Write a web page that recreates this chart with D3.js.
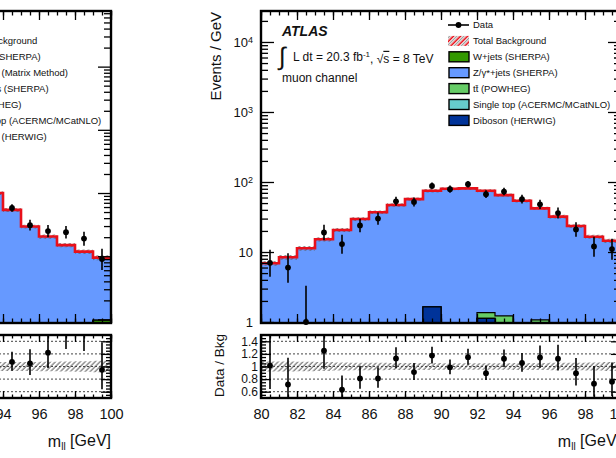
<!DOCTYPE html>
<html><head><meta charset="utf-8">
<script src="https://cdn.jsdelivr.net/npm/d3@7"></script>
<style>body{margin:0;background:#fff;} text{font-family:"Liberation Sans",Arial,Helvetica,sans-serif;fill:#111;}</style>
</head><body><svg id="c" width="616" height="458"></svg>
<script>
// ---------------- DATA ----------------
// muon channel (right panel), 1 GeV bins, lower edges
const muBins = [80,81,82,83,84,85,86,87,88,89,90,91,92,93,94,95,96,97,98,99];
const muData = [7,6,1,19,13,24,30,53,52,88,79,93,67,73,57,48,36,21,12,11];
const muTotalBkg = [6.9,8.4,11.3,15.2,20.6,29.6,37,47,57,75,80,81,75,65,54,42,32,23.5,16.5,14.5];
const muBkgUnc = [0.08,0.08,0.075,0.07,0.065,0.06,0.06,0.055,0.055,0.055,0.05,0.05,0.05,0.05,0.055,0.055,0.06,0.06,0.065,0.07];
const muWjets   = [0,0,0,0,0,0,0,0,0,0,0,0,0,0,0,0,0,0,0,0];
const muDiboson = [0,0,0,0,0,0,0,0,0,1.65,0,0,1.13,0.6,0,0.5,0,0,0,0];
const muSingleTop=[0,0,0,0,0,0,0,0,0,0,0,0,0,0,0,0,0,0,0,0];
const muTtbar   = [0,0,0,0,0,0,0,0,0,0,0,0,0.23,0.62,0,0.57,0,0,0,0];

// electron channel (left panel, only its right end is inside the picture)
const elBins = [93,94,95,96,97,98,99];
const elData = [100,58,31,25,24,19,9];
const elTotalBkg = [100,54,29.5,20.5,15,11.8,9.5];
const elBkgUnc = [0.07,0.07,0.07,0.075,0.08,0.085,0.09];
const elWjets   = [0,0,0,0,0,0,0.97];
const elDiboson = [0,0,0,0,0,0,0];
const elSingleTop=[0,0,0,0,0,0,0];
const elTtbar   = [0,0,0,0,0,0,0];

const xTickLabels = [80,82,84,86,88,90,92,94,96,98,100];
const yDecades = [1,10,100,1000,10000];
const ratioTicks = [0.6,0.8,1,1.2,1.4];

const muLegend = [
  {t:"Data", k:"data"},
  {t:"Total Background", k:"tot"},
  {t:"W+jets (SHERPA)", k:"w"},
  {t:"Z/\u03B3*+jets (SHERPA)", k:"z"},
  {t:"t\u0074\u0304 (POWHEG)", k:"tt"},
  {t:"Single top (ACERMC/MCatNLO)", k:"st"},
  {t:"Diboson (HERWIG)", k:"db"}];
const elLegend = [
  {t:"Data", k:"data"},
  {t:"Total Background", k:"tot"},
  {t:"W+jets (SHERPA)", k:"w"},
  {t:"Multijets (Matrix Method)", k:"mj"},
  {t:"Z/\u03B3*+jets (SHERPA)", k:"z"},
  {t:"t\u0074\u0304 (POWHEG)", k:"tt"},
  {t:"Single top (ACERMC/MCatNLO)", k:"st"},
  {t:"Diboson (HERWIG)", k:"db"}];

const colors = {w:"#339900", z:"#6699ff", tt:"#66cc66", st:"#66cccc", db:"#003399", mj:"#ffff66", red:"#e8101a"};

// ---------------- DRAW ----------------
const svg = d3.select("#c");
const defs = svg.append("defs");
const pg = defs.append("pattern").attr("id","hatchGray").attr("patternUnits","userSpaceOnUse")
  .attr("width",3.5).attr("height",3.5).attr("patternTransform","rotate(45)");
pg.append("line").attr("x1",1).attr("x2",1).attr("y1",0).attr("y2",3.5).attr("stroke","#555").attr("stroke-width",1);
const pr = defs.append("pattern").attr("id","hatchRed").attr("patternUnits","userSpaceOnUse")
  .attr("width",5).attr("height",5).attr("patternTransform","rotate(45)");
pr.append("rect").attr("width",5).attr("height",5).attr("fill","#fff");
pr.append("line").attr("x1",1.2).attr("x2",1.2).attr("y1",0).attr("y2",5).attr("stroke",colors.red).attr("stroke-width",1.6);
pr.append("line").attr("x1",3.7).attr("x2",3.7).attr("y1",0).attr("y2",5).attr("stroke","#888").attr("stroke-width",1);

const MT=11, MB=323, RT=335, RB=398;

function poisUp(n){const m=n+1;return m*Math.pow(1-1/(9*m)+1/(3*Math.sqrt(m)),3);}
function poisLo(n){if(n<=0)return 0;return n*Math.pow(1-1/(9*n)-1/(3*Math.sqrt(n)),3);}

let clipId=0;
function clip(x0,y0,w,h){const id="cl"+(clipId++);defs.append("clipPath").attr("id",id).append("rect").attr("x",x0).attr("y",y0).attr("width",w).attr("height",h);return "url(#"+id+")";}

function stepPath(bins, vals, x, y, ymin, base){
  let d="";
  bins.forEach((b,i)=>{const v=Math.max(vals[i],ymin);const yy=y(v);
    d += (i===0?"M"+x(b)+","+base+"L":"L")+x(b)+","+yy+"L"+x(b+1)+","+yy;});
  d += "L"+x(bins[bins.length-1]+1)+","+base+"Z";
  return d;
}
function stepLine(bins, vals, x, y){
  let d="";
  bins.forEach((b,i)=>{const yy=y(vals[i]);d+=(i===0?"M":"L")+x(b)+","+yy+"L"+x(b+1)+","+yy;});
  return d;
}

function drawPanel(p){
  const x = d3.scaleLinear().domain([80,100]).range([p.x0,p.x1]);
  const y = d3.scaleLog().domain(p.ydom).range([MB,MT]);
  const r = d3.scaleLinear().domain([0.5,1.5]).range([RB,RT]);
  const g = svg.append("g");
  const ymin = p.ydom[0];
  const gm = g.append("g").attr("clip-path", clip(p.x0,MT,p.x1-p.x0,MB-MT));
  // stack: cumulative from bottom: W, Diboson, single top, ttbar, Z(rest)
  const c1 = p.w, c2 = c1.map((v,i)=>v+p.db[i]), c3=c2.map((v,i)=>v+p.st[i]), c4=c3.map((v,i)=>v+p.tt[i]);
  gm.append("path").attr("d",stepPath(p.bins,p.tot,x,y,ymin,MB)).attr("fill",colors.z).attr("stroke","#000").attr("stroke-width",1);
  [[c4,colors.tt],[c3,colors.st],[c2,colors.db],[c1,colors.w]].forEach(([cv,col])=>{
    if(cv.some(v=>v>ymin)) gm.append("path").attr("d",stepPath(p.bins,cv,x,y,ymin,MB)).attr("fill",col).attr("stroke","#000").attr("stroke-width",1.2);
  });
  // uncertainty band
  const band = d3.area().x(d=>d[0]).y0(d=>d[1]).y1(d=>d[2]);
  const bpts=[]; p.bins.forEach((b,i)=>{const a=y(p.tot[i]*(1+p.unc[i])),bb=y(p.tot[i]*(1-p.unc[i]));bpts.push([x(b),bb,a],[x(b+1),bb,a]);});
  gm.append("path").attr("d",band(bpts)).attr("fill","url(#hatchGray)");
  gm.append("path").attr("d",stepLine(p.bins,p.tot,x,y)).attr("fill","none").attr("stroke",colors.red).attr("stroke-width",2.6);
  // data
  p.bins.forEach((b,i)=>{const nn=p.data[i],cx=x(b+0.5);
    gm.append("line").attr("x1",cx).attr("x2",cx).attr("y1",y(Math.max(poisLo(nn),ymin*0.5))).attr("y2",y(poisUp(nn))).attr("stroke","#000").attr("stroke-width",1.6);
  });
  p.bins.forEach((b,i)=>{g.append("circle").attr("cx",x(b+0.5)).attr("cy",y(p.data[i])).attr("r",2.9).attr("fill","#000");});

  // axes main
  const majX = xTickLabels, minX = d3.range(80,100.01,0.5);
  const ax=(gen,tr)=>{const a=g.append("g").attr("transform",tr).call(gen);a.select(".domain").remove();a.selectAll("line").attr("stroke","#000").attr("stroke-width",1.3);return a;};
  ax(d3.axisBottom(x).tickValues(minX).tickSize(-4.5).tickFormat(""),`translate(0,${MB})`);
  ax(d3.axisBottom(x).tickValues(majX).tickSize(-9).tickFormat(""),`translate(0,${MB})`);
  ax(d3.axisTop(x).tickValues(minX).tickSize(-4.5).tickFormat(""),`translate(0,${MT})`);
  ax(d3.axisTop(x).tickValues(majX).tickSize(-9).tickFormat(""),`translate(0,${MT})`);
  const minY=[]; for(let e=-1;e<6;e++) for(let k=2;k<10;k++){const v=k*Math.pow(10,e); if(v>p.ydom[0]&&v<p.ydom[1]) minY.push(v);}
  const majY = yDecades.filter(v=>v>=p.ydom[0]&&v<=p.ydom[1]);
  ax(d3.axisLeft(y).tickValues(minY).tickSize(-7).tickFormat(""),`translate(${p.x0},0)`);
  const yl=ax(d3.axisLeft(y).tickValues(majY).tickSize(-13).tickPadding(8).tickFormat(""),`translate(${p.x0},0)`);
  ax(d3.axisRight(y).tickValues(minY).tickSize(-7).tickFormat(""),`translate(${p.x1},0)`);
  ax(d3.axisRight(y).tickValues(majY).tickSize(-13).tickFormat(""),`translate(${p.x1},0)`);
  yl.selectAll(".tick").each(function(v){
    const t=d3.select(this).append("text").attr("x",-8).attr("dy","0.36em").attr("text-anchor","end").style("font-size","13px").attr("fill","#111");
    const e=Math.round(Math.log10(v));
    if(e===0) t.text("1"); else if(e===1) t.text("10"); else {t.text("10"); t.append("tspan").attr("dy","-0.5em").style("font-size","9px").text(e);}
  });
  g.append("rect").attr("x",p.x0).attr("y",MT).attr("width",p.x1-p.x0).attr("height",MB-MT).attr("fill","none").attr("stroke","#000").attr("stroke-width",2.4);

  // ratio
  const gr = g.append("g").attr("clip-path", clip(p.x0,RT,p.x1-p.x0,RB-RT));
  ratioTicks.forEach(v=>gr.append("line").attr("x1",p.x0).attr("x2",p.x1).attr("y1",r(v)).attr("y2",r(v)).attr("stroke","#444").attr("stroke-width",1).attr("stroke-dasharray","2,2"));
  const rpts=[]; p.bins.forEach((b,i)=>{rpts.push([x(b),r(1-p.unc[i]),r(1+p.unc[i])],[x(b+1),r(1-p.unc[i]),r(1+p.unc[i])]);});
  gr.append("path").attr("d",band(rpts)).attr("fill","url(#hatchGray)");
  p.bins.forEach((b,i)=>{const nn=p.data[i],bk=p.tot[i],cx=x(b+0.5);
    gr.append("line").attr("x1",cx).attr("x2",cx).attr("y1",r(poisLo(nn)/bk)).attr("y2",r(poisUp(nn)/bk)).attr("stroke","#000").attr("stroke-width",1.6);
    gr.append("circle").attr("cx",cx).attr("cy",r(nn/bk)).attr("r",2.9).attr("fill","#000");
  });
  ax(d3.axisBottom(x).tickValues(minX).tickSize(-3.5).tickFormat(""),`translate(0,${RB})`);
  const xl=ax(d3.axisBottom(x).tickValues(majX).tickSize(-7).tickPadding(11).tickFormat(d=>d),`translate(0,${RB})`);
  xl.selectAll("text").style("font-size","14.5px").attr("fill","#111").attr("dy","0.71em");
  ax(d3.axisTop(x).tickValues(minX).tickSize(-3.5).tickFormat(""),`translate(0,${RT})`);
  ax(d3.axisTop(x).tickValues(majX).tickSize(-7).tickFormat(""),`translate(0,${RT})`);
  ax(d3.axisLeft(r).tickValues(d3.range(0.55,1.46,0.05)).tickSize(-5).tickFormat(""),`translate(${p.x0},0)`);
  const rl=ax(d3.axisLeft(r).tickValues(ratioTicks).tickSize(-10).tickPadding(3).tickFormat(d=>d===1?"1":d.toFixed(1)),`translate(${p.x0},0)`);
  rl.selectAll("text").style("font-size","12px").attr("fill","#111");
  ax(d3.axisRight(r).tickValues(d3.range(0.55,1.46,0.05)).tickSize(-5).tickFormat(""),`translate(${p.x1},0)`);
  ax(d3.axisRight(r).tickValues(ratioTicks).tickSize(-10).tickFormat(""),`translate(${p.x1},0)`);
  g.append("rect").attr("x",p.x0).attr("y",RT).attr("width",p.x1-p.x0).attr("height",RB-RT).attr("fill","none").attr("stroke","#000").attr("stroke-width",2.4);

  // titles
  const xt=g.append("text").attr("x",p.x1).attr("y",447).attr("text-anchor","end").style("font-size","16px");
  xt.append("tspan").text("m");
  xt.append("tspan").attr("dy","0.25em").style("font-size","10px").text("ll");
  xt.append("tspan").attr("dy","-0.25em").text(" [GeV]");
  g.append("text").attr("transform",`translate(${p.x0-40},${MT+1}) rotate(-90)`).attr("text-anchor","end").style("font-size","15px").text("Events / GeV");
  g.append("text").attr("transform",`translate(${p.x0-37},${RT-1}) rotate(-90)`).attr("text-anchor","end").style("font-size","13.5px").text("Data / Bkg");

  // legend
  const lx = p.x0+p.legX, lt = p.x0+p.legX+25;
  p.legend.forEach((e,i)=>{const yy=25+i*15.9;
    if(e.k==="data"){
      g.append("line").attr("x1",lx).attr("x2",lx+21).attr("y1",yy).attr("y2",yy).attr("stroke","#000").attr("stroke-width",1.6);
      g.append("circle").attr("cx",lx+10.5).attr("cy",yy).attr("r",2.9).attr("fill","#000");
    } else if(e.k==="tot"){
      g.append("rect").attr("x",lx).attr("y",yy-5).attr("width",21).attr("height",10).attr("fill","url(#hatchRed)");
    } else {
      g.append("rect").attr("x",lx+1).attr("y",yy-5).attr("width",20).attr("height",10).attr("fill",colors[e.k]).attr("stroke","#000").attr("stroke-width",1.4);
    }
    g.append("text").attr("x",lt).attr("y",yy).attr("dy","0.36em").style("font-size","9.5px").attr("fill","#222").text(e.t);
  });
  g.append("text").attr("x",p.x0+21).attr("y",36).style("font-size","14px").style("font-weight","bold").style("font-style","italic").text("ATLAS");
  g.append("text").attr("x",p.x0+18).attr("y",65).style("font-size","25px").text("\u222B");
  const lt2=g.append("text").attr("x",p.x0+32).attr("y",61).style("font-size","12px");
  lt2.append("tspan").text("L dt = 20.3 fb");
  lt2.append("tspan").attr("dy","-0.45em").style("font-size","8px").text("-1");
  lt2.append("tspan").attr("dy","0.45em").text(", \u221A");
  lt2.append("tspan").style("text-decoration","overline").text("s");
  lt2.append("tspan").text(" = 8 TeV");
  g.append("text").attr("x",p.x0+21).attr("y",82).style("font-size","12px").text(p.channel);
}

drawPanel({x0:-249,x1:111,ydom:[0.877,75900],bins:elBins,data:elData,tot:elTotalBkg,unc:elBkgUnc,legX:188,
  w:elWjets,db:elDiboson,st:elSingleTop,tt:elTtbar,legend:elLegend,channel:"electron channel"});
drawPanel({x0:261,x1:621,ydom:[0.968,27700],bins:muBins,data:muData,tot:muTotalBkg,unc:muBkgUnc,legX:187,
  w:muWjets,db:muDiboson,st:muSingleTop,tt:muTtbar,legend:muLegend,channel:"muon channel"});
</script></body></html>
